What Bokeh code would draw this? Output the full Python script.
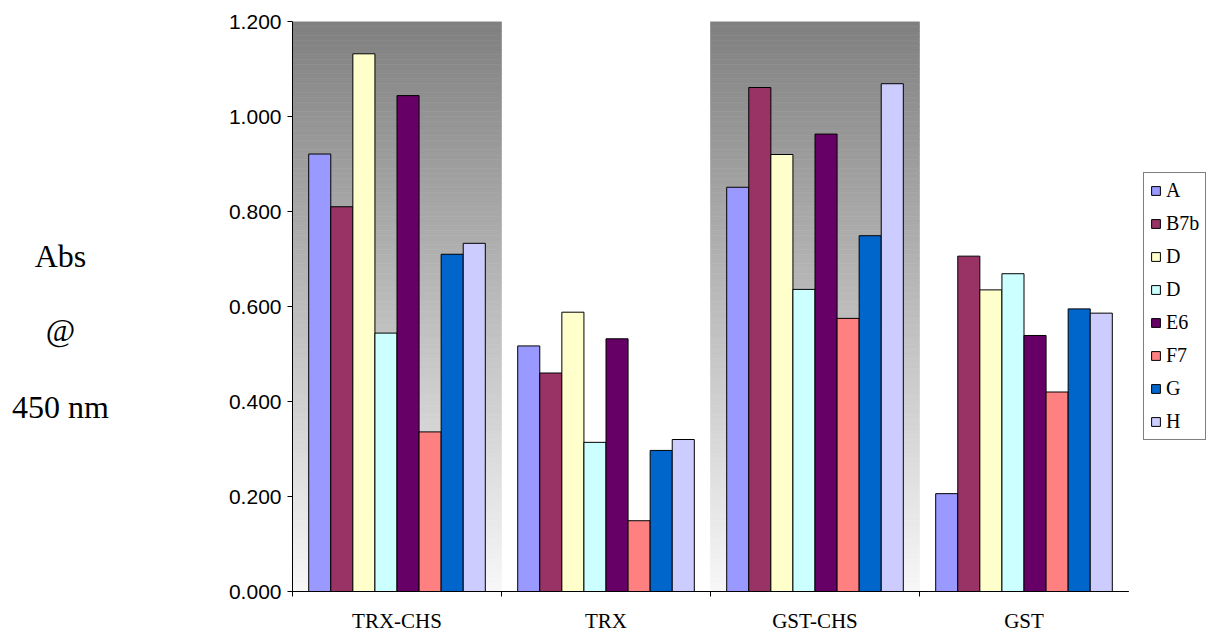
import numpy as np
from bokeh.plotting import figure
from bokeh.layouts import row
from bokeh.models import (Range1d, FixedTicker, NumeralTickFormatter, Legend,
                          LegendItem, Label, ColumnDataSource)
from bokeh.transform import dodge
from bokeh.embed import file_html
from bokeh.resources import INLINE

# ---------------- data ----------------
categories = ["TRX-CHS", "TRX", "GST-CHS", "GST"]
series_names = ["A", "B7b", "D", "D", "E6", "F7", "G", "H"]
a   = [0.921, 0.517, 0.851, 0.206]
b7b = [0.810, 0.460, 1.061, 0.706]
d1  = [1.132, 0.588, 0.920, 0.635]
d2  = [0.544, 0.314, 0.636, 0.669]
e6  = [1.044, 0.532, 0.963, 0.539]
f7  = [0.336, 0.149, 0.575, 0.420]
g   = [0.710, 0.297, 0.749, 0.595]
h   = [0.733, 0.320, 1.069, 0.586]
series_values = [a, b7b, d1, d2, e6, f7, g, h]
colors = ["#9999FF", "#993366", "#FFFFCC", "#CCFFFF",
          "#660066", "#FF8080", "#0066CC", "#CCCCFF"]
shaded_categories = ["TRX-CHS", "GST-CHS"]
y_ticks = [0.0, 0.2, 0.4, 0.6, 0.8, 1.0, 1.2]
y_label_lines = ["Abs", "@", "450 nm"]

H = 635
TOP, BOTTOM = 21, 43
LEFT_W = 160
MAIN_LEFT = 132
FRAME_W = 836
LEG_W = 1210 - LEFT_W - MAIN_LEFT - FRAME_W

# ---------------- main figure ----------------
n_cat = len(categories)
p = figure(width=MAIN_LEFT + FRAME_W, height=H,
           x_range=Range1d(0, n_cat), y_range=Range1d(0, max(y_ticks)),
           output_backend="svg", toolbar_location=None,
           min_border_left=MAIN_LEFT, min_border_right=0,
           min_border_top=TOP, min_border_bottom=BOTTOM)
p.outline_line_color = None
p.xgrid.visible = False
p.ygrid.visible = False
p.background_fill_color = "white"

# gradient background behind the shaded groups
n_strips = 120
edges = np.linspace(0, max(y_ticks), n_strips + 1)
mids = (edges[:-1] + edges[1:]) / 2
t = mids / max(y_ticks)
grey = (247 - t * (247 - 128)).round().astype(int)
strip_cols = ["#%02x%02x%02x" % (v, v, v) for v in grey]
for c in shaded_categories:
    i = categories.index(c)
    p.quad(left=[i] * n_strips, right=[i + 1] * n_strips,
           bottom=edges[:-1], top=edges[1:],
           fill_color=strip_cols, line_color=strip_cols, line_width=0.6)

# bars
centers = list(np.arange(n_cat) + 0.5)
src = ColumnDataSource({"x": centers, **{f"s{k}": v for k, v in enumerate(series_values)}})
n_ser = len(series_values)
bar_w = 0.845 / n_ser
for k in range(n_ser):
    p.vbar(x=dodge("x", (k - (n_ser - 1) / 2) * bar_w, range=p.x_range),
           top=f"s{k}", bottom=0, width=bar_w, source=src,
           fill_color=colors[k], line_color="black", line_width=1)

# x axis
xa = p.xaxis[0]
xa.ticker = FixedTicker(ticks=centers, minor_ticks=list(range(n_cat + 1)))
xa.major_label_overrides = {float(cx): name for cx, name in zip(centers, categories)}
xa.major_tick_line_color = None
xa.major_tick_out = 0
xa.major_tick_in = 0
xa.minor_tick_line_color = "black"
xa.minor_tick_out = 5
xa.minor_tick_in = 0
xa.axis_line_color = "black"
xa.major_label_text_font = "Liberation Serif"
xa.major_label_text_font_size = "21px"
xa.major_label_text_color = "black"
xa.major_label_standoff = 12

# y axis
ya = p.yaxis[0]
ya.ticker = FixedTicker(ticks=y_ticks)
ya.formatter = NumeralTickFormatter(format="0.000")
ya.minor_tick_line_color = None
ya.major_tick_out = 5
ya.major_tick_in = 0
ya.major_tick_line_color = "black"
ya.axis_line_color = "black"
ya.major_label_text_font = "Liberation Sans"
ya.major_label_text_font_size = "21px"
ya.major_label_text_color = "black"
ya.major_label_standoff = 6

# ---------------- left strip with the y "title" ----------------
left = figure(width=LEFT_W, height=H, x_range=Range1d(0, LEFT_W), y_range=p.y_range,
              x_axis_type=None, y_axis_type=None,
              output_backend="svg", toolbar_location=None,
              min_border_left=0, min_border_right=0,
              min_border_top=TOP, min_border_bottom=BOTTOM)
left.outline_line_color = None
for txt, yy in zip(y_label_lines, [0.706, 0.550, 0.389]):
    left.add_layout(Label(x=60, y=yy, text=txt, text_align="center",
                          text_baseline="middle", text_font="Liberation Serif",
                          text_font_size="32px", text_color="black"))

# ---------------- right strip with the legend ----------------
# legend-only renderers: one zero-height bar per series, placed outside the visible range
lf = figure(width=LEG_W, height=H, x_range=Range1d(0, 1), y_range=Range1d(0, 1),
            x_axis_type=None, y_axis_type=None,
            output_backend="svg", toolbar_location=None,
            min_border_left=0, min_border_right=0,
            min_border_top=TOP, min_border_bottom=BOTTOM)
lf.outline_line_color = None
leg_src = ColumnDataSource({"x": [-5.0], "top": [0.0]})
leg_renderers = [lf.vbar(x="x", top="top", bottom=0, width=0.1, source=leg_src,
                         fill_color=colors[k], line_color="black", line_width=1)
                 for k in range(n_ser)]
items = [LegendItem(label=nm, renderers=[r], index=0)
         for nm, r in zip(series_names, leg_renderers)]
legend = Legend(items=items, location=(15, 151),
                border_line_color="black", border_line_width=1,
                background_fill_color="white", background_fill_alpha=1,
                label_text_font="Liberation Serif", label_text_font_size="20px",
                label_text_color="black",
                glyph_width=11, glyph_height=11, label_standoff=5,
                padding=6, spacing=10, label_height=22, margin=0)
lf.add_layout(legend)

layout = row(left, p, lf)
open("out.html", "w").write(file_html(layout, INLINE))
